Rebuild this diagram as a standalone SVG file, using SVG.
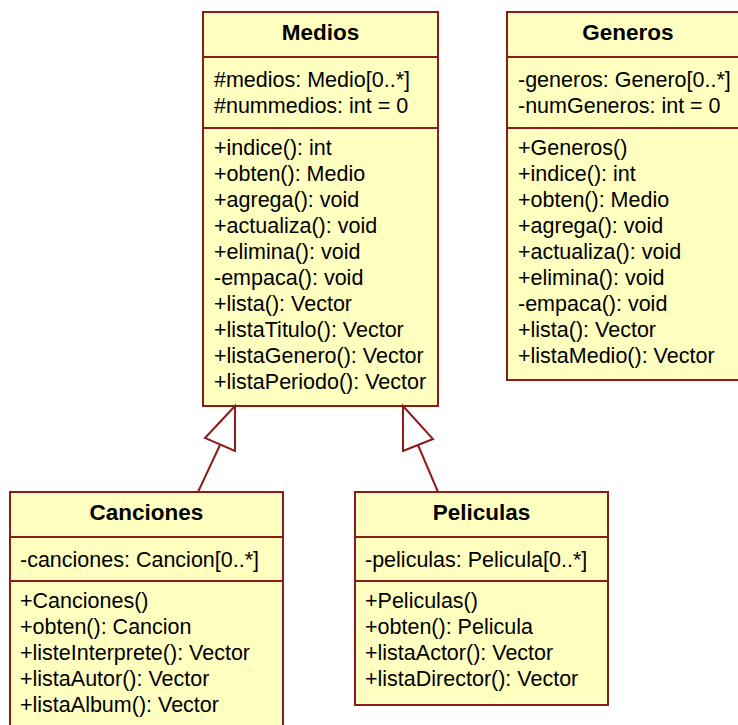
<svg xmlns="http://www.w3.org/2000/svg" width="738" height="725" viewBox="0 0 738 725">
<style>
.box{fill:#FFFFC0;stroke:#8E1B1B;stroke-width:2}
.sep{stroke:#8E1B1B;stroke-width:2}
.t{font-family:"Liberation Sans",Arial,sans-serif;font-size:21.5px;fill:#000}
.h{font-family:"Liberation Sans",Arial,sans-serif;font-size:22.5px;font-weight:bold;fill:#000;text-anchor:middle}
.conn line{stroke:#8E1B1B;stroke-width:2}
.conn polygon{fill:#fff;stroke:#8E1B1B;stroke-width:2}
</style>
<rect width="738" height="725" fill="#fff"/>
<g id="Medios">
<rect class="box" x="203" y="12" width="235" height="394"/>
<line class="sep" x1="203" y1="57" x2="438" y2="57"/>
<line class="sep" x1="203" y1="128" x2="438" y2="128"/>
<text class="h" x="320.5" y="40">Medios</text>
<text class="t" x="214" y="87">#medios: Medio[0..*]</text>
<text class="t" x="214" y="113">#nummedios: int = 0</text>
<text class="t" x="214" y="155">+indice(): int</text>
<text class="t" x="214" y="181">+obten(): Medio</text>
<text class="t" x="214" y="207">+agrega(): void</text>
<text class="t" x="214" y="233">+actualiza(): void</text>
<text class="t" x="214" y="259">+elimina(): void</text>
<text class="t" x="214" y="285">-empaca(): void</text>
<text class="t" x="214" y="311">+lista(): Vector</text>
<text class="t" x="214" y="337">+listaTitulo(): Vector</text>
<text class="t" x="214" y="363">+listaGenero(): Vector</text>
<text class="t" x="214" y="389">+listaPeriodo(): Vector</text>
</g>
<g id="Generos">
<rect class="box" x="507" y="12" width="242" height="368"/>
<line class="sep" x1="507" y1="57" x2="749" y2="57"/>
<line class="sep" x1="507" y1="128" x2="749" y2="128"/>
<text class="h" x="628" y="40">Generos</text>
<text class="t" x="518" y="87">-generos: Genero[0..*]</text>
<text class="t" x="518" y="113">-numGeneros: int = 0</text>
<text class="t" x="518" y="155">+Generos()</text>
<text class="t" x="518" y="181">+indice(): int</text>
<text class="t" x="518" y="207">+obten(): Medio</text>
<text class="t" x="518" y="233">+agrega(): void</text>
<text class="t" x="518" y="259">+actualiza(): void</text>
<text class="t" x="518" y="285">+elimina(): void</text>
<text class="t" x="518" y="311">-empaca(): void</text>
<text class="t" x="518" y="337">+lista(): Vector</text>
<text class="t" x="518" y="363">+listaMedio(): Vector</text>
</g>
<g id="Canciones">
<rect class="box" x="10" y="492" width="273" height="245"/>
<line class="sep" x1="10" y1="537" x2="283" y2="537"/>
<line class="sep" x1="10" y1="581" x2="283" y2="581"/>
<text class="h" x="146.5" y="520">Canciones</text>
<text class="t" x="20" y="567">-canciones: Cancion[0..*]</text>
<text class="t" x="20" y="608">+Canciones()</text>
<text class="t" x="20" y="634">+obten(): Cancion</text>
<text class="t" x="20" y="660">+listeInterprete(): Vector</text>
<text class="t" x="20" y="686">+listaAutor(): Vector</text>
<text class="t" x="20" y="712">+listaAlbum(): Vector</text>
</g>
<g id="Peliculas">
<rect class="box" x="355" y="492" width="253" height="213"/>
<line class="sep" x1="355" y1="537" x2="608" y2="537"/>
<line class="sep" x1="355" y1="581" x2="608" y2="581"/>
<text class="h" x="481.5" y="520">Peliculas</text>
<text class="t" x="365" y="567">-peliculas: Pelicula[0..*]</text>
<text class="t" x="365" y="608">+Peliculas()</text>
<text class="t" x="365" y="634">+obten(): Pelicula</text>
<text class="t" x="365" y="660">+listaActor(): Vector</text>
<text class="t" x="365" y="686">+listaDirector(): Vector</text>
</g>
<g id="connectors" class="conn">
<line x1="198" y1="492" x2="220" y2="445"/>
<polygon points="235,406 205,438 235,451"/>
<line x1="438" y1="492" x2="418" y2="445"/>
<polygon points="403,406 433,439 403,451"/>
</g>
</svg>
